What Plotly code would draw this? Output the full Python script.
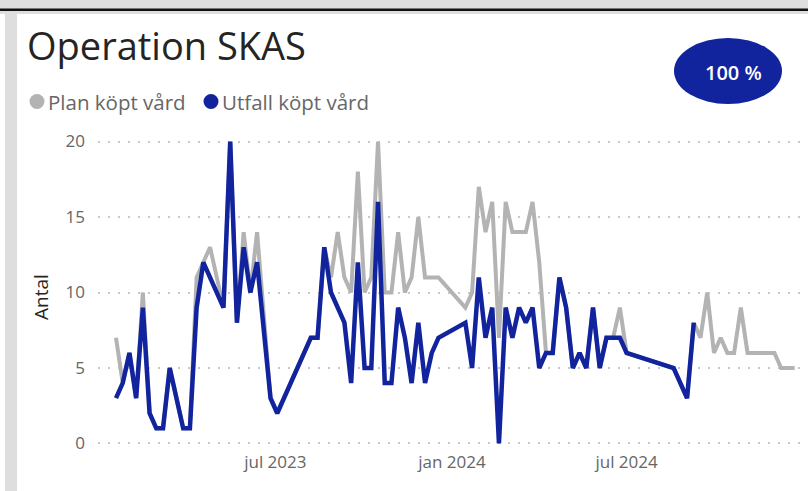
import pandas as pd
import plotly.graph_objects as go

# ---------------- data ----------------
week_start = "2023-01-16"          # first weekly observation (Monday)
n_weeks = 102
weeks = pd.date_range(week_start, periods=n_weeks, freq="7D")

N = None
plan_kopt_vard = [
    7, 4, 6, 3, 10, 2, 1, 1, 5, N,
    1, 1, 11, 12, 13, 11, 9, 20, 8, 14,
    10, 14, N, 3, 2, N, N, N, N, 7,
    7, 13, 11, 14, 11, 10, 18, 10, 11, 20,
    10, 10, 14, 10, 11, 15, 11, 11, 11, N,
    N, N, 9, 10, 17, 14, 16, 7, 16, 14,
    14, 14, 16, 12, 6, 6, 11, 9, 5, 6,
    5, 9, 5, 7, 7, 9, 6, N, N, N,
    N, N, N, 5, N, 3, 8, 7, 10, 6,
    7, 6, 6, 9, 6, 6, 6, 6, 6, 5,
    5, 5,
]
utfall_kopt_vard = [
    3, 4, 6, 3, 9, 2, 1, 1, 5, N,
    1, 1, 9, 12, N, N, 9, 20, 8, 13,
    10, 12, N, 3, 2, N, N, N, N, 7,
    7, 13, 10, N, 8, 4, 12, 5, 5, 16,
    4, 4, 9, 7, 4, 8, 4, 6, 7, N,
    N, N, 8, 5, 11, 7, 9, 0, 9, 7,
    9, 8, 9, 5, 6, 6, 11, 9, 5, 6,
    5, 9, 5, 7, 7, 7, 6, N, N, N,
    N, N, N, 5, N, 3, 8, N, N, N,
    N, N, N, N, N, N, N, N, N, N,
    N, N,
]

x_tick_vals = ["2023-07-01", "2024-01-01", "2024-07-01"]
x_tick_text = ["jul 2023", "jan 2024", "jul 2024"]
y_tick_vals = [0, 5, 10, 15, 20]

series_names = ["Plan köpt vård", "Utfall köpt vård"]
title_text = "Operation SKAS"
y_title = "Antal"
badge_text = "100 %"

# ---------------- style ----------------
W, H = 808, 491
ML, MR, MT, MB = 98, 0, 137, 43
PW, PH = W - ML - MR, H - MT - MB
GRAY = "#b3b3b3"
BLUE = "#12239e"
FONT = "Segoe UI, Open Sans, sans-serif"


def px(xp):
    return (xp - ML) / PW


def py(yp):
    return (H - MB - yp) / PH


fig = go.Figure()
fig.add_trace(go.Scatter(x=weeks, y=plan_kopt_vard, name=series_names[0], mode="lines",
                         line=dict(color=GRAY, width=4), connectgaps=True))
fig.add_trace(go.Scatter(x=weeks, y=utfall_kopt_vard, name=series_names[1], mode="lines",
                         line=dict(color=BLUE, width=4.5), connectgaps=True))

fig.update_layout(
    width=W, height=H,
    margin=dict(l=ML, r=MR, t=MT, b=MB, autoexpand=False),
    paper_bgcolor="white", plot_bgcolor="white",
    showlegend=False,
    font=dict(family=FONT, color="#666666"),
    xaxis=dict(range=["2022-12-28 06:00", "2025-01-06"], showgrid=False, zeroline=False,
               showline=False, tickvals=x_tick_vals, ticktext=x_tick_text,
               tickfont=dict(size=17, color="#666666"), ticks="", ticklabelstandoff=2),
    yaxis=dict(range=[-0.3, 20.3], tickvals=y_tick_vals, showgrid=True,
               gridcolor="#c8c8c8", gridwidth=1.5, griddash="2px,8px",
               zeroline=False, showline=False, ticks="",
               tickfont=dict(size=17, color="#666666"), ticklabelstandoff=12),
)

shapes = [
    # frame: top band with black rule, left bar
    dict(type="rect", xref="paper", yref="paper", x0=px(0), x1=px(W), y0=py(14), y1=py(0),
         fillcolor="#dedede", line_width=0, layer="below"),
    dict(type="rect", xref="paper", yref="paper", x0=px(0), x1=px(W), y0=py(11), y1=py(8.5),
         fillcolor="#111111", line_width=0, layer="below"),
    dict(type="rect", xref="paper", yref="paper", x0=px(5), x1=px(17), y0=py(H), y1=py(14),
         fillcolor="#dedede", line_width=0, layer="below"),
    # badge ellipse
    dict(type="circle", xref="paper", yref="paper", x0=px(674), x1=px(782), y0=py(104), y1=py(38),
         fillcolor=BLUE, line_width=0),
    # legend dots
    dict(type="circle", xref="paper", yref="paper", x0=px(29.5), x1=px(44.5), y0=py(109), y1=py(94),
         fillcolor=GRAY, line_width=0),
    dict(type="circle", xref="paper", yref="paper", x0=px(203.5), x1=px(218.5), y0=py(109), y1=py(94),
         fillcolor=BLUE, line_width=0),
]
fig.update_layout(shapes=shapes)

annotations = [
    dict(text=title_text, xref="paper", yref="paper", x=px(25), y=py(45), xanchor="left",
         yanchor="middle", showarrow=False, font=dict(size=38, color="#252423", family=FONT)),
    dict(text=series_names[0], xref="paper", yref="paper", x=px(46), y=py(102), xanchor="left",
         yanchor="middle", showarrow=False, font=dict(size=20.5, color="#666666", family=FONT)),
    dict(text=series_names[1], xref="paper", yref="paper", x=px(220), y=py(102), xanchor="left",
         yanchor="middle", showarrow=False, font=dict(size=20.5, color="#666666", family=FONT)),
    dict(text=y_title, xref="paper", yref="paper", x=px(41), y=py(297), xanchor="center",
         yanchor="middle", textangle=-90, showarrow=False,
         font=dict(size=19, color="#252423", family=FONT)),
    dict(text=badge_text, xref="paper", yref="paper", x=px(733), y=py(72), xanchor="center",
         yanchor="middle", showarrow=False,
         font=dict(size=20, color="white", family=FONT, weight=600)),
]
fig.update_layout(annotations=annotations)

fig.write_html("out.html", config={"displayModeBar": False},
               post_script="document.body.style.margin='0';")
